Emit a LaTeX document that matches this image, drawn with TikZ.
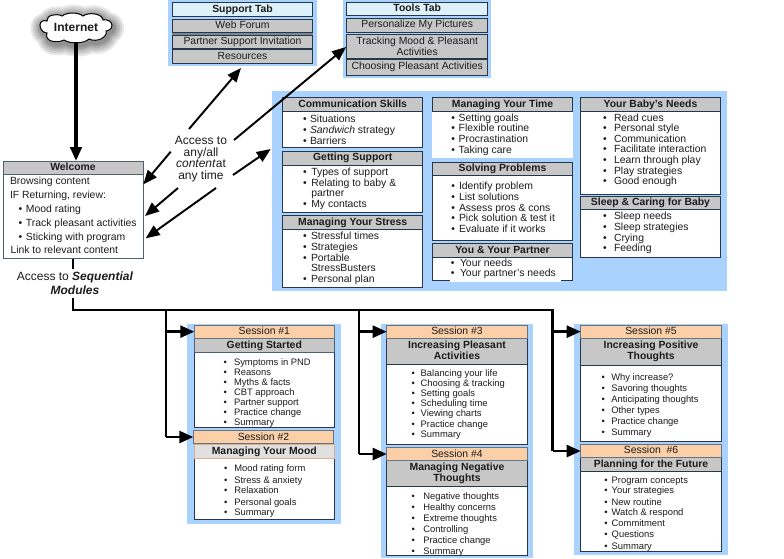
\documentclass[tikz,border=0pt]{standalone}
\usepackage{fontspec}
\setmainfont{Liberation Sans}
\usetikzlibrary{arrows.meta}
\definecolor{panelblue}{HTML}{A9D2FE}
\definecolor{hdrgray}{HTML}{C7C7C7}
\definecolor{hdrlight}{HTML}{E0E0E0}
\definecolor{tabhead}{HTML}{DDF1FA}
\definecolor{peach}{HTML}{FBCFA8}
\definecolor{edge}{HTML}{25374A}
\definecolor{ink}{HTML}{1C1C1C}
\newcount\nodeidx
\newcommand{\mystrut}{\rule[-1.9pt]{0pt}{8.2pt}}
\newcommand{\cloudpath}{(40,25) .. controls (40,21) and (44,20) .. (47,21)
  .. controls (46,15) and (57,13) .. (62,16)
  .. controls (67,12) and (78,12) .. (83,16)
  .. controls (88,12) and (102,13) .. (103,20)
  .. controls (108,19) and (112,22) .. (112,25.5)
  .. controls (112,29) and (108,31) .. (106,31)
  .. controls (108,37) and (97,43) .. (89,39)
  .. controls (84,44) and (70,44) .. (64,40)
  .. controls (56,44) and (44,41) .. (47,33)
  .. controls (43,33) and (40,29) .. (40,25) -- cycle}
\tikzset{
  x=0.75pt,y=-0.75pt,
  every node/.style={text=ink,inner sep=0pt,outer sep=0pt},
  panel/.style={fill=panelblue,draw=none},
  bodybox/.style={fill=white,draw=edge,line width=0.75pt},
  plainbody/.style={fill=white,draw=none},
  hdr/.style={fill=hdrgray,draw=edge,line width=0.75pt,font=\hdrfont,align=center},
  hdrpale/.style={fill=hdrlight,draw=edge,line width=0.75pt,font=\hdrfont,align=center},
  item/.style={fill=hdrgray,draw=edge,line width=0.75pt,font=\bodyfont,align=center},
  tabtop/.style={fill=tabhead,draw=edge,line width=0.75pt,font=\hdrfont},
  sess/.style={fill=peach,draw=edge!70,line width=0.75pt,font=\bodyfont},
  bodytxt/.style={font=\bodyfont,anchor=base west},
  smalltxt/.style={font=\smallfont,anchor=base west},
  bigtxt/.style={font=\bigfont,align=center},
  biglink/.style={-{Triangle[length=10.5pt,width=8.5pt]},line width=2.5pt,draw=black},
  thinlink/.style={-{Triangle[length=10.5pt,width=8.5pt]},line width=1.45pt,draw=black},
  trunk/.style={line width=1.9pt,draw=black},
  branch/.style={-{Triangle[length=10.5pt,width=9pt]},line width=1.9pt,draw=black},
}
\newcommand{\hdrfont}{\bfseries\fontsize{7.8}{8.3}\selectfont\mystrut}
\newcommand{\bodyfont}{\fontsize{7.8}{8.3}\selectfont\mystrut}
\newcommand{\smallfont}{\fontsize{7.05}{8}\selectfont}
\newcommand{\bigfont}{\fontsize{9}{8.7}\selectfont}
% [style]{name}{x1}{y1}{x2}{y2}{text}
\newcommand{\mybx}[7][]{%
  \pgfmathsetmacro\bxcx{(#3+#5)/2}\pgfmathsetmacro\bxcy{(#4+#6)/2}%
  \pgfmathsetmacro\bxw{(#5-#3)*.75}\pgfmathsetmacro\bxh{(#6-#4)*.75}%
  \node[#1,minimum width=\bxw pt,minimum height=\bxh pt] (#2) at (\bxcx,\bxcy) {#7};}
% {name}{x1}{y1}{x2}{ymid}{y2}{title}
\newcommand{\card}[7]{%
  \mybx[bodybox]{#1}{#2}{#3}{#4}{#6}{}%
  \mybx[hdr]{#1h}{#2}{#3}{#4}{#5}{#7}}
% {bullet x}{text x}{style}{y/text,...}
\newcommand{\mylst}[4]{%
  \foreach \yy/\ttt in {#4}{%
    \pgfmathsetmacro\bly{\yy+3.6}%
    \global\advance\nodeidx by 1
    \node[#3,anchor=base] (b\the\nodeidx) at (#1,\bly) {\textbullet};
    \node[#3] (t\the\nodeidx) at (#2,\bly) {\ttt};
  }}
\newcommand{\mytxt}[3]{%
  \global\advance\nodeidx by 1
  \pgfmathsetmacro\bly{#2+3.6}%
  \node[bodytxt] (x\the\nodeidx) at (#1,\bly) {#3};}
\begin{document}
\begin{tikzpicture}
\useasboundingbox (0,0) rectangle (784,558);
% panels
\mybx[panel]{psupport}{168}{0}{317}{66}{}
\mybx[panel]{ptools}{342.5}{0}{491}{78}{}
\mybx[panel]{pmain}{272}{91}{727}{291}{}
\mybx[panel]{pa}{187.3}{324}{341}{524}{}
\mybx[panel]{pb}{380.7}{324}{533}{558}{}
\mybx[panel]{pc}{574}{324}{727.7}{554.7}{}
% support tab
\mybx[fill=edge!60]{supgap}{172.3}{31}{312.7}{50}{}
\mybx[tabtop]{suphead}{172.3}{2}{312.7}{16.5}{Support Tab}
\mybx[item]{supa}{172.3}{19.5}{312.7}{32}{Web Forum}
\mybx[item]{supb}{172.3}{35}{312.7}{48}{Partner Support Invitation}
\mybx[item]{supc}{172.3}{49.5}{312.7}{63}{Resources}
% tools tab
\mybx[tabtop]{toolhead}{346.7}{2}{487.7}{15.5}{Tools Tab}
\mybx[item]{toola}{346.7}{18}{487.7}{32}{Personalize My Pictures}
\mybx[item]{toolb}{346.7}{34}{487.7}{58}{}
\node[font=\bodyfont,align=center] (toolbtext) at (417.2,47.7) {Tracking Mood \& Pleasant\\\mystrut Activities};
\mybx[item]{toolc}{346.7}{59}{487.7}{75}{Choosing Pleasant Activities}
% cloud with soft shadow
\foreach \gr in {22,18,14,10,7,4}{
  \pgfmathsetmacro\lw{\gr*.75}
  \draw[black,opacity=.09,line width=\lw pt,line join=round,xshift=1pt,yshift=-2pt] \cloudpath;
}
\draw[fill=white,draw=black,line width=0.75pt] \cloudpath;
\node[font=\bfseries\fontsize{9}{10}\selectfont,minimum height=22.5pt] (internet) at (76,27) {Internet};
% welcome
\mybx[bodybox,draw=edge!80]{welcome}{3}{161}{143}{258.5}{}
\mybx[hdr,draw=edge!80]{welhead}{3}{161}{143}{174}{Welcome}
\mytxt{10}{181}{Browsing content}
\mytxt{10}{194.5}{IF Returning, review:}
\mylst{20.5}{26}{bodytxt}{209/Mood rating,223/Track pleasant activities,237/Sticking with program}
\mytxt{10.5}{250}{Link to relevant content}
% access label
\node[bigtxt] (access) at (201,159) {Access to\\any/all\\\textit{content}at\\any time};
\node[font=\fontsize{9}{10.6}\selectfont,align=center] (seq) at (75,283) {Access to \textbf{\textit{Sequential}}\\\textbf{\textit{Modules}}};
% main column 1
\card{comm}{282.7}{97.7}{422.7}{111}{147.3}{Communication Skills}
\mylst{305}{310}{bodytxt}{119.3/Situations,130/{\textit{Sandwich} strategy},141/Barriers}
\card{supp}{282.7}{151}{422.7}{165}{212.3}{Getting Support}
\mylst{305}{311.3}{bodytxt}{171.7/Types of support,182.5/Relating to baby \&,203.5/My contacts}
\mytxt{311.3}{193}{partner}
\card{stress}{282.7}{215.7}{422.7}{229.3}{287.3}{Managing Your Stress}
\mylst{305}{311}{bodytxt}{236.3/Stressful times,247/Strategies,257.7/Portable,279/Personal plan}
\mytxt{311}{268}{StressBusters}
% main column 2
\mybx[plainbody]{time}{432.3}{97.7}{572.7}{157.7}{}
\mybx[hdr]{timeh}{432.3}{97.7}{572.7}{111}{Managing Your Time}
\mylst{453.3}{458.7}{bodytxt}{117.7/Setting goals,128/Flexible routine,139/Procrastination,150/Taking care}
\card{solve}{432.3}{162.3}{572.7}{175.7}{240.7}{Solving Problems}
\mylst{453.3}{459}{bodytxt}{186/Identify problem,197/List solutions,207.7/Assess pros \& cons,218/Pick solution \& test it,229/Evaluate if it works}
\card{you}{432.3}{243.7}{572.7}{257}{280.3}{You \& Your Partner}
\mybx[plainbody]{youmask}{450}{278}{561}{281.5}{}
\mylst{452.7}{460}{bodytxt}{263/Your needs,273/Your partner's needs}
% main column 3
\card{baby}{580.7}{97.7}{720.3}{111}{194.3}{Your Baby's Needs}
\mylst{605}{614}{bodytxt}{117.7/Read cues,128.3/Personal style,139/Communication,149.3/Facilitate interaction,160/Learn through play,171/Play strategies,181.3/Good enough}
\card{sleep}{580.7}{196.3}{720.3}{209.7}{257.3}{Sleep \& Caring for Baby}
\mylst{605}{614}{bodytxt}{216.3/Sleep needs,227/Sleep strategies,238/Crying,248.3/Feeding}
% session 1
\mybx[bodybox]{sa}{194.3}{338.3}{334.3}{427.3}{}
\mybx[hdr,draw=edge!80]{sah}{194.3}{338.3}{334.3}{352.7}{Getting Started}
\mybx[sess]{sat}{194.3}{325}{334.3}{338.3}{Session \#1}
\mylst{225.3}{234}{smalltxt}{361.7/Symptoms in PND,371.7/Reasons,381.7/Myths \& facts,392/CBT approach,402/Partner support,412/Practice change,422/Summary}
% session 2
\mybx[bodybox]{sb}{194.3}{444.7}{334.3}{519.3}{}
\mybx[hdrpale,draw=brown!60]{sbh}{194.3}{444.7}{334.3}{458.7}{Managing Your Mood}
\mybx[sess]{sbt}{193.3}{430.7}{333.7}{443.7}{Session \#2}
\mylst{225.7}{234.3}{smalltxt}{468.3/Mood rating form,479.7/Stress \& anxiety,490.3/Relaxation,501.7/Personal goals,512.3/Summary}
% session 3
\mybx[bodybox]{sc}{386.7}{338.3}{527.3}{444.3}{}
\mybx[hdr]{sch}{386.7}{338.3}{527.3}{364.3}{Increasing Pleasant\\\mystrut Activities}
\mybx[sess]{sct}{386.7}{325}{527.3}{338.3}{Session \#3}
\mylst{413.3}{420.7}{smalltxt}{372.7/Balancing your life,383/Choosing \& tracking,393/Setting goals,403/Scheduling time,413/Viewing charts,423.7/Practice change,433.7/Summary}
% session 4
\mybx[bodybox]{sd}{386.7}{460.7}{527.3}{555.7}{}
\mybx[hdr]{sdh}{386.7}{460.7}{527.3}{486.7}{Managing Negative\\\mystrut Thoughts}
\mybx[sess]{sdt}{386.7}{447.7}{527.3}{460.7}{Session \#4}
\mylst{413.3}{423.3}{smalltxt}{496.3/Negative thoughts,507/Healthy concerns,518/Extreme thoughts,529/Controlling,540/Practice change,551/Summary}
% session 5
\mybx[bodybox]{se}{580.7}{338.3}{721.3}{441}{}
\mybx[hdr]{seh}{580.7}{338.3}{721.3}{365.3}{Increasing Positive\\\mystrut Thoughts}
\mybx[sess]{set}{580.7}{325}{721.3}{338.3}{Session \#5}
\mylst{603.3}{611.3}{smalltxt}{377/Why increase?,388.3/Savoring thoughts,399/Anticipating thoughts,410/Other types,420.7/Practice change,432/Summary}
% session 6
\mybx[bodybox]{sf}{580.7}{457.3}{721.3}{551}{}
\mybx[hdr]{sfh}{580.7}{457.3}{721.3}{471.3}{Planning for the Future}
\mybx[sess]{sft}{580.7}{444.3}{721.3}{457.3}{Session~~\#6}
\mylst{606}{611.7}{smalltxt}{479.7/Program concepts,490.3/Your strategies,501.7/New routine,512.3/Watch \& respond,523.3/Commitment,534/Questions,545.7/Summary}
% named free ends
\coordinate (a1) at (189,129);   \coordinate (a1t) at (241,68);
\coordinate (a2) at (234,140);   \coordinate (a2t) at (346,47);
\coordinate (a3) at (170.7,151.7); \coordinate (a3t) at (143.3,184.3);
\coordinate (a4) at (178,188);   \coordinate (a4t) at (145,216);
\coordinate (a5) at (216,188);   \coordinate (a5t) at (145.7,238.3);
\coordinate (a6) at (233,175);   \coordinate (a6t) at (270.7,149);
\coordinate (j0) at (73,269);    \coordinate (j1) at (73,298);
\coordinate (jc) at (73,310);
\coordinate (t1) at (166,310);   \coordinate (t1b) at (166,437);
\coordinate (t2) at (359,310);   \coordinate (t2b) at (359,454);
\coordinate (t3) at (552.5,310); \coordinate (t3b) at (552.5,451);
% connectors
\draw[biglink] (internet.south) -- (internet.south |- welhead.north);
\draw[thinlink] (a1) -- (a1t);
\draw[thinlink] (a2) -- (a2t);
\draw[thinlink] (a3) -- (a3t);
\draw[thinlink] (a4) -- (a4t);
\draw[thinlink] (a5) -- (a5t);
\draw[thinlink] (a6) -- (a6t);
\draw[trunk] (welcome.south) -- (j0);
\draw[trunk] (j1) -- (jc) -- (t3) -- (t3b);
\draw[trunk] (t1) -- (t1b);
\draw[trunk] (t2) -- (t2b);
\draw[branch] (t1 |- sat.west) -- (sat.west);
\draw[branch] (t1b) -- (t1b -| sbt.west);
\draw[branch] (t2 |- sct.west) -- (sct.west);
\draw[branch] (t2b) -- (t2b -| sdt.west);
\draw[branch] (t3 |- set.west) -- (set.west);
\draw[branch] (t3b) -- (t3b -| sft.west);
\end{tikzpicture}
\end{document}
